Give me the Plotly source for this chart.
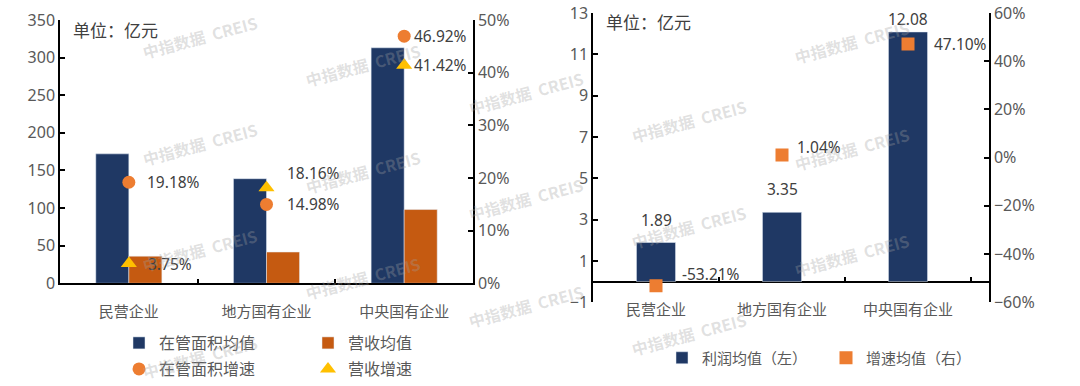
import plotly.graph_objects as go

# ---------------- data ----------------
categories = ["民营企业", "地方国有企业", "中央国有企业"]

# left chart
area_avg = [172, 139, 313]          # 在管面积均值 (亿元)
revenue_avg = [36, 41.5, 98]        # 营收均值 (亿元)
area_growth = [0.1918, 0.1498, 0.4692]     # 在管面积增速
revenue_growth = [0.0375, 0.1816, 0.4142]  # 营收增速

# right chart
profit_avg = [1.89, 3.35, 12.08]           # 利润均值（左）
profit_growth = [-0.5321, 0.0104, 0.4710]  # 增速均值（右）

left_y_ticks = [0, 50, 100, 150, 200, 250, 300, 350]
left_y2_ticks = [0, 0.1, 0.2, 0.3, 0.4, 0.5]
right_y_ticks = [-1, 1, 3, 5, 7, 9, 11, 13]
right_y2_ticks = [-0.6, -0.4, -0.2, 0, 0.2, 0.4, 0.6]

# ---------------- style ----------------
NAVY = "#1F3864"
RUST = "#C55A11"
ORANGE = "#ED7D31"
GOLD = "#FFC000"
TXT = "#404040"
TICK = "#595959"
FONT = "Noto Sans, Noto Sans CJK SC, sans-serif"
CJK = "Noto Sans CJK SC, Noto Sans, sans-serif"
W, H = 1080, 386

def px_x(a, b):
    return [a / W, b / W]

def px_y(top, bottom):
    return [1 - bottom / H, 1 - top / H]

L_X = px_x(60, 473)
L_Y = px_y(20, 284)
R_X = px_x(593, 989)
R_Y = px_y(13, 303)

fig = go.Figure()

# ---- left chart ----
fig.add_trace(go.Bar(x=categories, y=area_avg, name="在管面积均值", marker_color=NAVY,
                     width=0.24, offset=-0.24, xaxis="x", yaxis="y", legend="legend"))
fig.add_trace(go.Bar(x=categories, y=revenue_avg, name="营收均值", marker_color=RUST,
                     width=0.24, offset=0.0, xaxis="x", yaxis="y", legend="legend"))
fig.add_trace(go.Scatter(x=categories, y=area_growth, name="在管面积增速", mode="markers",
                         marker=dict(color=ORANGE, size=13, symbol="circle"),
                         xaxis="x", yaxis="y2", legend="legend2"))
fig.add_trace(go.Scatter(x=categories, y=revenue_growth, name="营收增速", mode="markers",
                         marker=dict(color=GOLD, size=14, symbol="triangle-up"),
                         xaxis="x", yaxis="y2", legend="legend2"))

# ---- right chart ----
fig.add_trace(go.Bar(x=categories, y=profit_avg, name="利润均值（左）", marker_color=NAVY,
                     width=0.31, xaxis="x2", yaxis="y3", legend="legend3"))
fig.add_trace(go.Scatter(x=categories, y=profit_growth, name="增速均值（右）", mode="markers",
                         marker=dict(color=ORANGE, size=13, symbol="square"),
                         xaxis="x2", yaxis="y4", legend="legend3"))

annotations = []

def label(x, y, text, xref, yref, xshift, yshift, xanchor="left"):
    annotations.append(dict(x=x, y=y, xref=xref, yref=yref, text=text, showarrow=False,
                            xanchor=xanchor, yanchor="middle", xshift=xshift, yshift=yshift,
                            font=dict(size=15.5, color=TXT, family=FONT)))

area_shift = [(16, 0), (18, 0), (8, 0)]
rev_shift = [(17, 0), (18, 15), (8, 0)]
for c, v, s in zip(categories, area_growth, area_shift):
    label(c, v, f"{v*100:.2f}%", "x", "y2", s[0], s[1])
for c, v, s in zip(categories, revenue_growth, rev_shift):
    label(c, v, f"{v*100:.2f}%", "x", "y2", s[0], s[1])

bar_lbl_shift = [23, 23, 13]
for c, v, s in zip(categories, profit_avg, bar_lbl_shift):
    label(c, v, f"{v:.2f}", "x2", "y3", 0, s, xanchor="center")
grow_shift = [(24, 12), (13, 8), (24, 0)]
for c, v, s in zip(categories, profit_growth, grow_shift):
    label(c, v, f"{v*100:.2f}%", "x2", "y4", s[0], s[1])

# unit notes
annotations.append(dict(x=71 / W, y=1 - 30 / H, xref="paper", yref="paper", text="单位：亿元",
                        showarrow=False, xanchor="left", yanchor="middle",
                        font=dict(size=17, color=TXT, family=CJK)))
annotations.append(dict(x=604 / W, y=1 - 22 / H, xref="paper", yref="paper", text="单位：亿元",
                        showarrow=False, xanchor="left", yanchor="middle",
                        font=dict(size=17, color=TXT, family=CJK)))

# watermark tiles (only those fully inside the picture)
for i in range(-1, 7):
    cx = 200 + 163 * i
    base = (37 + 28 * i) % 107
    for j in range(-1, 5):
        cy = base + 107 * j
        if 25 < cy < H - 25 and 65 < cx < W - 65:
            annotations.append(dict(x=cx / W, y=1 - cy / H, xref="paper", yref="paper",
                                    text="<b>中指数据  CREIS</b>", showarrow=False, textangle=-15,
                                    xanchor="center", yanchor="middle",
                                    font=dict(size=16, color="rgba(160,160,160,0.33)", family=CJK)))

axis_common = dict(showgrid=False, linecolor="#000000", linewidth=1.5, ticks="inside",
                   ticklen=5, tickcolor="#000000", tickwidth=1.5, automargin=False,
                   ticklabeloverflow="allow",
                   tickfont=dict(size=16, color=TICK, family=FONT))

# zero position of right chart in paper coords
zero_frac = (0 - right_y_ticks[0]) / (right_y_ticks[-1] - right_y_ticks[0])
zero_paper = R_Y[0] + zero_frac * (R_Y[1] - R_Y[0])

fig.update_layout(
    width=W, height=H, autosize=False,
    margin=dict(l=0, r=0, t=0, b=0),
    paper_bgcolor="white", plot_bgcolor="white",
    font=dict(family=FONT, color=TXT),
    barmode="group",
    xaxis=dict(domain=L_X, anchor="y", showline=True, linecolor="#000000", linewidth=1.5,
               ticks="inside", ticklen=5, tickcolor="#000000", tickwidth=1.5,
               tickson="boundaries", showgrid=False, ticklabelstandoff=14, automargin=False,
               tickfont=dict(size=15, color=TICK, family=CJK)),
    yaxis=dict(domain=L_Y, anchor="x", range=[0, 350], tickvals=left_y_ticks,
               showline=True, zeroline=False, **axis_common),
    yaxis2=dict(overlaying="y", side="right", anchor="x", range=[0, 0.5],
                tickvals=left_y2_ticks, tickformat=".0%", showline=True, zeroline=False,
                **axis_common),
    xaxis2=dict(domain=R_X, anchor="free", position=zero_paper, showline=False,
                ticks="inside", ticklen=5, tickcolor="#000000", tickwidth=1.5,
                tickson="boundaries", showgrid=False, ticklabelstandoff=17, automargin=False,
                tickfont=dict(size=15, color=TICK, family=CJK)),
    yaxis3=dict(domain=R_Y, anchor="x2", range=[-1, 13], tickvals=right_y_ticks,
                showline=True, zeroline=True, zerolinecolor="#000000", zerolinewidth=1.5,
                **axis_common),
    yaxis4=dict(overlaying="y3", side="right", anchor="x2", range=[-0.6, 0.6],
                tickvals=right_y2_ticks, tickformat=".0%", showline=True, zeroline=False,
                **axis_common),
    legend=dict(orientation="h", x=119 / W, y=1 - 343 / H, xanchor="left", yanchor="middle",
                entrywidth=144, font=dict(size=16, color=TICK, family=CJK),
                bgcolor="rgba(0,0,0,0)", traceorder="normal"),
    legend2=dict(orientation="h", x=119 / W, y=1 - 370 / H, xanchor="left", yanchor="middle",
                 entrywidth=144, font=dict(size=16, color=TICK, family=CJK),
                 bgcolor="rgba(0,0,0,0)", traceorder="normal"),
    legend3=dict(orientation="h", x=662 / W, y=1 - 358 / H, xanchor="left", yanchor="middle",
                 entrywidth=119, font=dict(size=15, color=TICK, family=CJK),
                 bgcolor="rgba(0,0,0,0)", traceorder="normal"),
    annotations=annotations,
    showlegend=True,
)

fig.write_html("out.html", config={"displayModeBar": False},
               post_script="document.body.style.margin='0';document.body.style.overflow='hidden';")
